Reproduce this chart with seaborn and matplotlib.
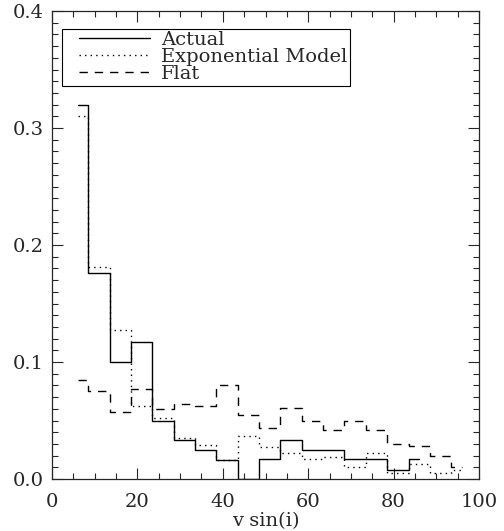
import numpy as np
import matplotlib
matplotlib.use('Agg')
import matplotlib.pyplot as plt
import seaborn as sns
from matplotlib.ticker import MultipleLocator, FormatStrFormatter

# bin centres (km/s), 5 km/s wide
vsini_actual = [6, 11, 16, 21, 26, 31, 36, 41, 46, 51, 56, 61, 66, 71, 76, 81, 86]
actual = [0.320, 0.176, 0.100, 0.117, 0.050, 0.033, 0.025, 0.016, 0.0, 0.017,
          0.033, 0.025, 0.025, 0.017, 0.017, 0.008, 0.017]

vsini_model = [6, 11, 16, 21, 26, 31, 36, 41, 46, 51, 56, 61, 66, 71, 76, 81, 86, 91, 96]
exponential = [0.310, 0.181, 0.127, 0.062, 0.052, 0.035, 0.029, 0.016, 0.037, 0.027,
               0.022, 0.017, 0.0185, 0.010, 0.022, 0.0055, 0.013, 0.005, 0.008]
flat = [0.085, 0.0755, 0.0575, 0.077, 0.060, 0.064, 0.062, 0.080, 0.055, 0.044,
        0.061, 0.050, 0.042, 0.0495, 0.042, 0.030, 0.0285, 0.020, 0.010]

sns.set_style('ticks')
plt.rcParams['font.family'] = ['DejaVu Serif']
plt.rcParams['font.size'] = 14

fig = plt.figure(figsize=(5.04, 5.31), dpi=100)
ax = fig.add_axes([52 / 504, 1 - 479 / 531, 427 / 504, 468 / 531])

sns.lineplot(x=vsini_actual, y=actual, ax=ax, color='black', lw=1.0,
             drawstyle='steps-mid', label='Actual')
sns.lineplot(x=vsini_model, y=exponential, ax=ax, color='black', lw=1.0,
             drawstyle='steps-mid', linestyle=(0, (1, 3)), label='Exponential Model')
sns.lineplot(x=vsini_model, y=flat, ax=ax, color='black', lw=1.0,
             drawstyle='steps-mid', linestyle=(0, (6, 5)), label='Flat')

ax.set_xlim(0, 100)
ax.set_ylim(0, 0.4)
ax.xaxis.set_major_locator(MultipleLocator(20))
ax.xaxis.set_minor_locator(MultipleLocator(5))
ax.yaxis.set_major_locator(MultipleLocator(0.1))
ax.yaxis.set_minor_locator(MultipleLocator(0.01))
ax.yaxis.set_major_formatter(FormatStrFormatter('%.1f'))
ax.tick_params(which='both', direction='in', top=True, right=True, width=0.8)
ax.tick_params(which='major', length=8, labelsize=14)
ax.tick_params(axis='x', which='major', pad=10)
ax.tick_params(axis='y', which='major', pad=6)
ax.tick_params(which='minor', length=4)
for s in ax.spines.values():
    s.set_linewidth(0.9)
    s.set_visible(True)

ax.set_xlabel('v sin(i)', fontsize=14, labelpad=1)

leg = ax.legend(loc='upper left', bbox_to_anchor=(0.023, 0.962), frameon=True,
                fancybox=False, edgecolor='black', framealpha=1,
                fontsize=14, handlelength=4.4, handletextpad=0.6,
                labelspacing=-0.05, borderpad=0.12, borderaxespad=0)
leg.get_frame().set_linewidth(0.8)
# the legend sample lines start a little inside the box
for ln in leg.get_lines():
    ln.set_drawstyle('default')
    xd = np.asarray(ln.get_xdata(), dtype=float).copy()
    xd[0] = xd[0] + 11
    ln.set_xdata(xd)

fig.savefig('out.png', dpi=100)
